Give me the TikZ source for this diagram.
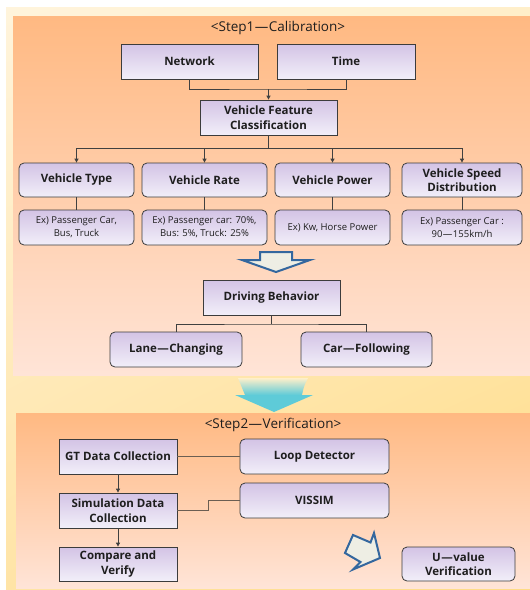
\documentclass[tikz,border=0pt]{standalone}
\usepackage{fontspec}
\setmainfont{Open Sans}
\usetikzlibrary{arrows.meta,shadings}
\definecolor{bgA}{HTML}{FFF4DC}
\definecolor{bgB}{HTML}{FFEFCA}
\definecolor{bgC}{HTML}{FFE4A6}
\definecolor{bgD}{HTML}{FFDB84}
\definecolor{panTop}{HTML}{FFB982}
\definecolor{panBot}{HTML}{FFE4D7}
\definecolor{boxTop}{HTML}{D3C3E5}
\definecolor{boxBot}{HTML}{F2EFF9}
\definecolor{boxLine}{HTML}{3C3C3C}
\definecolor{txt}{HTML}{1E1E1E}
\definecolor{conn}{HTML}{404040}
\definecolor{connB}{HTML}{6B5E52}
\definecolor{arrBlue}{HTML}{34679E}
\definecolor{arrFill}{HTML}{EEEEE4}
\definecolor{cyanA}{HTML}{5ECBD8}
\newcommand{\lmin}{\kern0.5pt—\kern0.5pt}
\begin{document}
\begin{tikzpicture}[x=1pt,y=-1pt,
  sqbox/.style={draw=boxLine, line width=0.8pt, top color=boxTop, bottom color=boxBot,
    text=txt, font=\bfseries\fontsize{11.5}{14.5}\selectfont, align=center, inner sep=0pt},
  rbox/.style={sqbox, rounded corners=5pt},
  exbox/.style={rbox, font=\fontsize{9.5}{13}\selectfont},
  titletext/.style={text=txt, font=\fontsize{13.5}{15}\selectfont, inner sep=0pt},
  link/.style={draw=conn, line width=0.8pt},
  arrowlink/.style={link, -{Triangle[length=4pt,width=4pt]}},
  blink/.style={draw=connB, line width=1.3pt},
  hollow/.style={draw=arrBlue, line width=2pt, fill=arrFill, line join=miter}
]
\useasboundingbox (0,0) rectangle (530,590);
% backgrounds
\shade[upper left=bgA, upper right=bgB, lower left=bgC, lower right=bgD] (6,7) rectangle (530,590);
\shade[top color=panTop, bottom color=panBot] (13,16) rectangle (530,375);
\shade[top color=panTop, bottom color=panBot] (16,413) rectangle (530,588);

% Step 1
\node[titletext] (t1) at (278,28) {<Step1\lmin Calibration>};
\node[sqbox, minimum width=137pt, minimum height=35pt] (net) at (189.5,61.5) {Network};
\node[sqbox, minimum width=138pt, minimum height=35pt] (time) at (346,61.5) {Time};
\node[sqbox, minimum width=137pt, minimum height=35pt] (vfc) at (268.5,117.5) {Vehicle Feature\\Classification};

\node[rbox, minimum width=115pt, minimum height=34pt] (vt) at (76.5,180) {Vehicle Type};
\node[rbox, minimum width=125pt, minimum height=34pt] (vr) at (204.5,180) {Vehicle Rate};
\node[rbox, minimum width=115pt, minimum height=34pt] (vp) at (332.5,180) {Vehicle Power};
\node[rbox, minimum width=120pt, minimum height=34pt] (vs) at (462,180) {Vehicle Speed\\Distribution};

\node[exbox, minimum width=115pt, minimum height=35pt] (et) at (76.5,227.5) {Ex) Passenger Car,\\Bus, Truck};
\node[exbox, minimum width=125pt, minimum height=35pt] (er) at (204.5,227.5) {Ex) Passenger car: 70\%,\\Bus: 5\%, Truck: 25\%};
\node[exbox, minimum width=115pt, minimum height=35pt] (ep) at (332.5,227.5) {Ex) Kw, Horse Power};
\node[exbox, minimum width=120pt, minimum height=35pt] (es) at (462,227.5) {Ex) Passenger Car :\\90\lmin 155km/h};

\coordinate (j1) at (268.5,89);
\draw[link] (net.south) |- (j1) -| (time.south);
\draw[arrowlink] (j1) -- (vfc.north);
\coordinate (j2) at (268.5,148);
\draw[link] (vfc.south) -- (j2);
\draw[link] (vt.north |- j2) -- (vs.north |- j2);
\foreach \n in {vt,vr,vp,vs} { \draw[arrowlink] (\n.north |- j2) -- (\n.north); }
\draw[link] (vt.south) -- (et.north);
\draw[link] (vr.south) -- (er.north);
\draw[link] (vp.south) -- (ep.north);
\draw[link] (vs.south) -- (es.north);

% hollow down arrow
\draw[hollow] (260,252) -- (292,252) -- (292,260) -- (310,260) -- (276,272) -- (242,260) -- (260,260) -- cycle;

\node[sqbox, minimum width=137pt, minimum height=35pt] (db) at (271.5,297.5) {Driving Behavior};
\node[rbox, minimum width=132pt, minimum height=35pt] (lc) at (176,349.5) {Lane\lmin Changing};
\node[rbox, minimum width=131pt, minimum height=35pt] (cf) at (366.5,349.5) {Car\lmin Following};
\coordinate (j3) at (271.5,324);
\draw[link] (db.south) -- (j3);
\draw[link] (lc.north) |- (j3) -| (cf.north);

% cyan arrow between steps
\shade[top color=bgB, bottom color=cyanA, middle color=cyanA]
  (238,378) .. controls (242,386) .. (245,395) -- (235,395) -- (274,412) -- (313,395) -- (302,395) .. controls (304,386) .. (308,378) -- cycle;

% Step 2
\node[titletext] (t2) at (273,425) {<Step2\lmin Verification>};
\node[sqbox, minimum width=118pt, minimum height=35pt] (gt) at (118,456.5) {GT Data Collection};
\node[rbox, minimum width=149pt, minimum height=35pt] (ld) at (314.5,456.5) {Loop Detector};
\node[sqbox, minimum width=118pt, minimum height=35pt] (sim) at (118,510.5) {Simulation Data\\Collection};
\node[rbox, minimum width=149pt, minimum height=35pt] (vis) at (314.5,500.5) {VISSIM};
\node[sqbox, minimum width=118pt, minimum height=34pt] (cv) at (118,564) {Compare and\\Verify};
\node[rbox, minimum width=113pt, minimum height=34pt] (uv) at (458.5,564) {U\lmin value\\Verification};

\draw[blink] (gt.east) -- (ld.west);
\draw[blink] (sim.east) -- ++(31,0) |- (vis.west);
\draw[arrowlink] (gt.south) -- (sim.north);
\draw[arrowlink] (sim.south) -- (cv.north);

% hollow diagonal arrow
\draw[hollow] (353,535) -- (370.5,542.5) -- (374,533) -- (380,558) -- (353,569.5) -- (360.5,562) -- (345,553) -- cycle;
\end{tikzpicture}
\end{document}
